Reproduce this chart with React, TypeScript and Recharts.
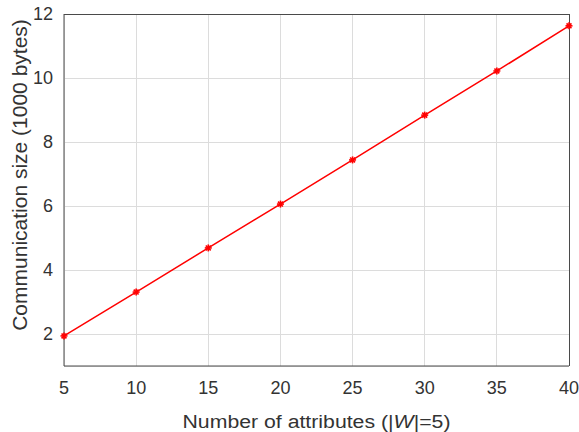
import React from 'react';
import { LineChart, Line, XAxis, YAxis, CartesianGrid, ReferenceLine } from 'recharts';

const attributes = [5, 10, 15, 20, 25, 30, 35, 40];
const commSize = [1.94, 3.31, 4.69, 6.06, 7.44, 8.84, 10.22, 11.63];
const xTicks = [5, 10, 15, 20, 25, 30, 35, 40];
const yTicks = [2, 4, 6, 8, 10, 12];

const data = attributes.map((a, i) => ({ n: a, size: commSize[i] }));

const axisColor = '#4a4a4a';
const gridColor = '#dcdcdc';
const textColor = '#333';
const font = '"Liberation Sans", Arial, sans-serif';

// small asterisk marker like MATLAB's '*'
const Star = (props: any) => {
  const { cx, cy } = props;
  if (cx == null || cy == null) return null;
  const r = 3.5;
  const d = r * 0.7;
  return (
    <g stroke="#ff0000" strokeWidth={1.6}>
      <line x1={cx - r} y1={cy} x2={cx + r} y2={cy} />
      <line x1={cx} y1={cy - r} x2={cx} y2={cy + r} />
      <line x1={cx - d} y1={cy - d} x2={cx + d} y2={cy + d} />
      <line x1={cx - d} y1={cy + d} x2={cx + d} y2={cy - d} />
    </g>
  );
};

// axis title under the x axis, stretched a bit wider like the original
const XTitle = (props: any) => {
  const { viewBox } = props;
  const cx = viewBox.x + viewBox.width / 2;
  return (
    <text
      x={cx}
      y={428}
      textAnchor="middle"
      fill={textColor}
      fontSize={18}
      fontFamily={font}
      textLength={268}
      lengthAdjust="spacingAndGlyphs"
    >
      Number of attributes (|<tspan fontStyle="italic">W</tspan>|=5)
    </text>
  );
};

const YTitle = () => {
  const cy = 175;
  return (
    <text
      x={27}
      y={cy}
      transform={`rotate(-90, 27, ${cy})`}
      textAnchor="middle"
      fill={textColor}
      fontSize={21}
      fontFamily={font}
    >
      Communication size (1000 bytes)
    </text>
  );
};

export default function App() {
  const tickStyle = { fill: textColor, fontSize: 18, fontFamily: font };
  return (
    <div style={{ position: 'fixed', left: 0, top: 0, width: 579, height: 432, background: '#fff' }}>
      <LineChart width={579} height={432} data={data} margin={{ top: 14, right: 10, left: 0, bottom: 0 }}>
        <CartesianGrid xAxisId="b" yAxisId="l" stroke={gridColor} strokeWidth={1} shapeRendering="crispEdges" />
        <XAxis
          xAxisId="b"
          dataKey="n"
          type="number"
          domain={[5, 40]}
          ticks={xTicks}
          height={66}
          stroke={axisColor}
          tickLine={false}
          tickSize={6}
          tickMargin={9}
          tick={tickStyle}
          label={<XTitle />}
        />
        <YAxis
          yAxisId="l"
          type="number"
          domain={[1, 12]}
          ticks={yTicks}
          width={64}
          stroke={axisColor}
          tickLine={false}
          tickSize={6}
          tickMargin={5}
          tick={tickStyle}
          label={<YTitle />}
        />
        <ReferenceLine xAxisId="b" yAxisId="l" y={12} stroke={axisColor} strokeWidth={1} shapeRendering="crispEdges" />
        <ReferenceLine xAxisId="b" yAxisId="l" x={40} stroke={axisColor} strokeWidth={1} shapeRendering="crispEdges" />
        <Line
          xAxisId="b"
          yAxisId="l"
          dataKey="size"
          stroke="#ff0000"
          strokeWidth={1.5}
          dot={<Star />}
          activeDot={false}
          isAnimationActive={false}
        />
      </LineChart>
    </div>
  );
}
